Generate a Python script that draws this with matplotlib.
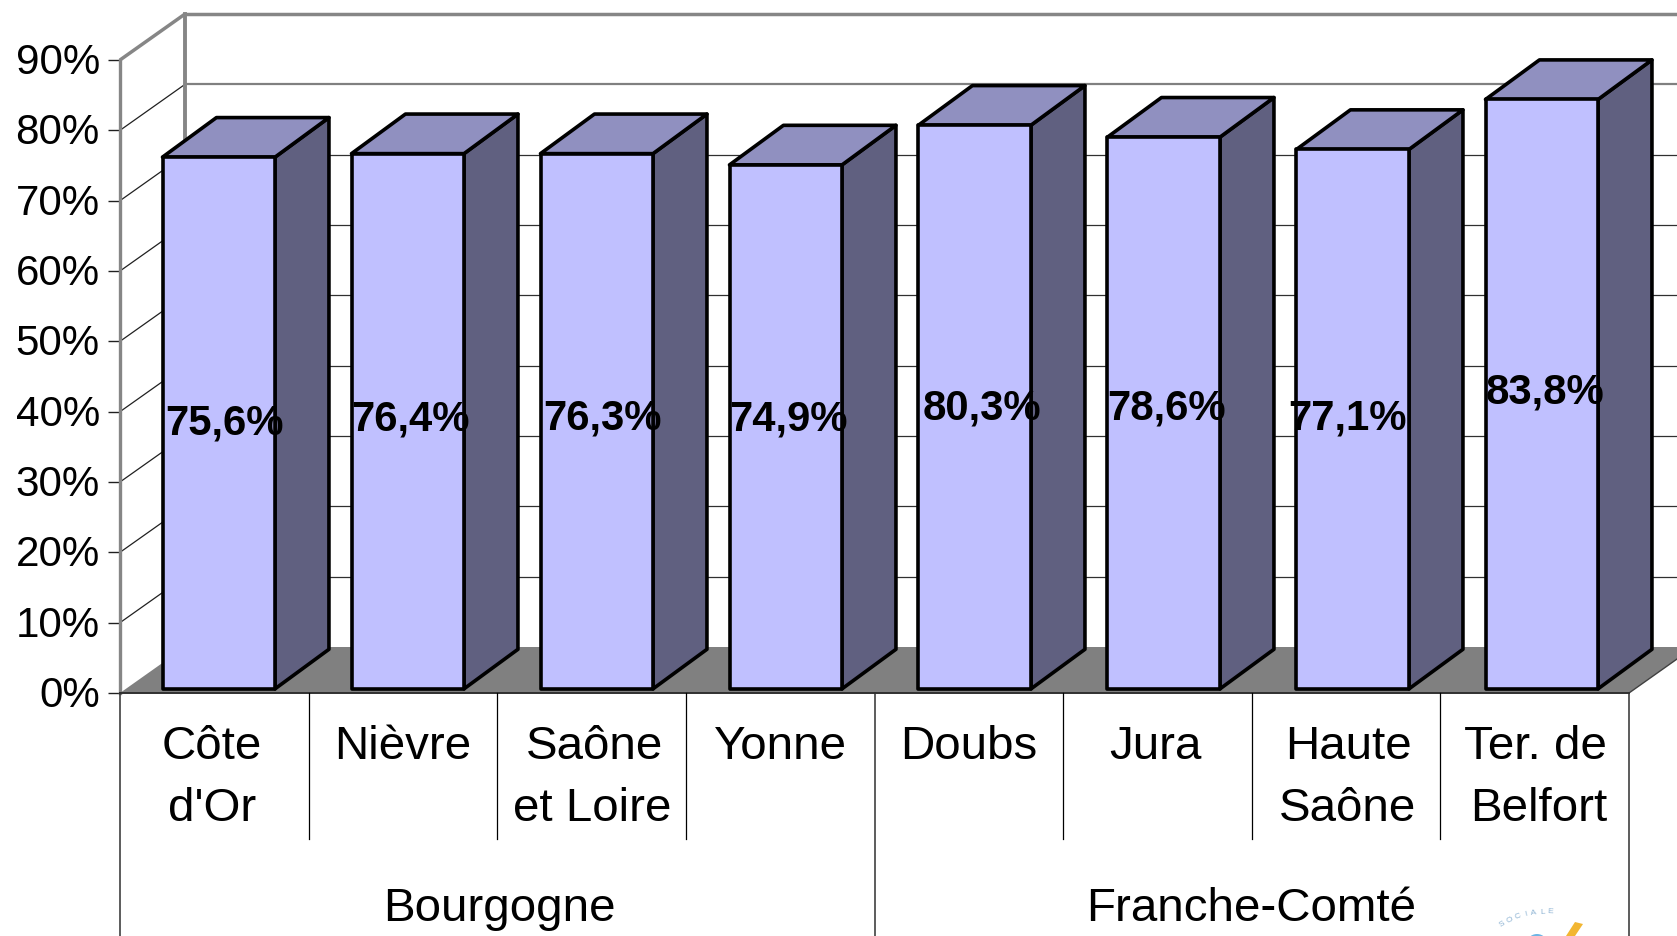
import numpy as np
import matplotlib
matplotlib.use("Agg")
import matplotlib.pyplot as plt
from matplotlib.patches import Polygon, Circle
from matplotlib.transforms import ScaledTranslation

plt.rcParams['font.family'] = ['Liberation Sans', 'DejaVu Sans']

# ---- data ----
departments = ["Côte\nd'Or", "Nièvre", "Saône\net Loire", "Yonne", "Doubs", "Jura", "Haute\nSaône", "Ter. de\nBelfort"]
regions = ["Bourgogne", "Franche-Comté"]
region_sizes = [4, 4]
# bar heights as drawn in the picture, and the values printed on the bars
bar_heights = [75.6, 76.1, 76.1, 74.5, 80.15, 78.45, 76.7, 83.8]
rate_labels = ["75,6%", "76,4%", "76,3%", "74,9%", "80,3%", "78,6%", "77,1%", "83,8%"]
y_ticks = [0, 10, 20, 30, 40, 50, 60, 70, 80, 90]
y_tick_labels = [f"{v}%" for v in y_ticks]

# ---- layout ----
W, H = 1677, 937
X0, X1, Y0, Y90 = 120, 1629, 694, 61      # front plane, px
PX_CAT = (X1 - X0) / 8
PX_PCT = (Y0 - Y90) / 90
DEPTH_X, DEPTH_Y = 65 / PX_CAT, 46 / PX_PCT   # wall depth, data units
BAR_L, BAR_W, BAR_STEP = 42.5 / PX_CAT, 112.5 / PX_CAT, 189.0 / PX_CAT
GAP_Y = 0.09
BAR_DX, BAR_DY = 0.83, 0.86
label_dx = [6, 3, 6, 3, 7, 3, -5, 3]
label_dy = [5, 7, 8, 13, 4, 10, 6, 7]
dept_dx = [(-3, -2), (0,), (3, 1), (0,), (0,), (-2,), (2, 1), (1, 4)]
region_dx = [2, -1]

FRONT, TOP, SIDE, FLOOR, WALL = "#C0C0FF", "#9090C0", "#606080", "#808080", "#868686"

fig = plt.figure(figsize=(W / 100, H / 100), dpi=100)
ax = fig.add_axes([X0 / W, 1 - Y0 / H, (X1 - X0) / W, (Y0 - Y90) / H])
ax.set_xlim(0, 8)
ax.set_ylim(0, 90)
ax.patch.set_visible(False)
for s in ax.spines.values():
    s.set_visible(False)

# y axis
ax.set_yticks(y_ticks, y_tick_labels)
ax.tick_params(axis='y', length=9, width=1, color='#202020', labelsize=30.3, pad=5.5)
ax.set_xticks([])
shift = ScaledTranslation(0, 2.5 / 100, fig.dpi_scale_trans)
for lab in ax.get_yticklabels():
    lab.set_transform(lab.get_transform() + shift)

# floor
ax.add_patch(Polygon([(0, 0), (8, 0), (8 + DEPTH_X, DEPTH_Y), (DEPTH_X, DEPTH_Y)],
                     fc=FLOOR, ec='none', clip_on=False, zorder=1))
# gridlines on both walls
for v in y_ticks[1:]:
    if v == 90:
        lw, col = 2.5, WALL
    elif v == 80:
        lw, col = 1.6, '#808080'
    else:
        lw, col = 0.9, '#303030'
    ax.plot([0, DEPTH_X], [v, v + DEPTH_Y], color=col if v == 90 else '#202020',
            lw=lw if v == 90 else 0.9, clip_on=False, zorder=1.5, solid_capstyle='butt')
    ax.plot([DEPTH_X, 8 + DEPTH_X], [v + DEPTH_Y, v + DEPTH_Y], color=col, lw=lw,
            clip_on=False, zorder=1.5, solid_capstyle='butt')
ax.plot([8, 8 + DEPTH_X], [0, DEPTH_Y], color='#404040', lw=1, clip_on=False, zorder=1.5)
# wall edges
ax.plot([0, 0], [0, 90], color=WALL, lw=2.4, clip_on=False, zorder=2)
ax.plot([DEPTH_X, DEPTH_X], [DEPTH_Y, 90 + DEPTH_Y], color=WALL, lw=2.8, clip_on=False, zorder=2)
ax.plot([0, 8], [0, 0], color='#303030', lw=1.4, clip_on=False, zorder=2)

# bars
for i, v in enumerate(bar_heights):
    l = i * BAR_STEP + BAR_L
    r = l + BAR_W
    dx, dy = DEPTH_X * BAR_DX, DEPTH_Y * BAR_DY
    b = DEPTH_Y * GAP_Y
    t = v + b
    kw = dict(ec='black', lw=2.6, joinstyle='round', clip_on=False, zorder=3)
    ax.add_patch(Polygon([(r, b), (r + dx, b + dy), (r + dx, t + dy), (r, t)], fc=SIDE, **kw))
    ax.add_patch(Polygon([(l, t), (r, t), (r + dx, t + dy), (l + dx, t + dy)], fc=TOP, **kw))
    ax.add_patch(Polygon([(l, b), (r, b), (r, t), (l, t)], fc=FRONT, **kw))
    ax.annotate(rate_labels[i], xy=(l + BAR_W / 2, v / 2), xytext=(label_dx[i], label_dy[i]),
                textcoords='offset pixels', ha='center', va='center',
                fontsize=30.2, fontweight='bold', color='black', zorder=4, annotation_clip=False)

# multi-level category axis
trans = ax.get_xaxis_transform()
def depth(px):
    return -(px - Y0) / (Y0 - Y90)

for i in range(1, 8):
    if i != 4:
        ax.plot([i, i], [0, depth(840)], transform=trans, color='black', lw=0.9, clip_on=False)
edge = 0
edges = [0]
for n in region_sizes:
    edge += n
    edges.append(edge)
for e in edges:
    ax.plot([e, e], [0, depth(H + 5)], transform=trans, color='#303030', lw=1.1, clip_on=False)

for i, name in enumerate(departments):
    for j, line in enumerate(name.split("\n")):
        ax.text(i + 0.5 + dept_dx[i][j] / PX_CAT, depth(747.5 + 62 * j), line, transform=trans,
                ha='center', va='center', fontsize=34.2, color='black', clip_on=False)
for k, name in enumerate(regions):
    ax.text((edges[k] + edges[k + 1]) / 2 + region_dx[k] / PX_CAT, depth(909.5), name, transform=trans,
            ha='center', va='center', fontsize=34.2, color='black', clip_on=False)

# faint logo cut off by the lower edge of the picture
def fx(px):
    return px / W
def fy(py):
    return 1 - py / H
fig.add_artist(Circle((1537, H - 946), 11, fc='#4aa3df', ec='none', alpha=0.8,
                      transform=None))
fig.add_artist(Polygon([(fx(1566), fy(937)), (fx(1575), fy(923)), (fx(1583), fy(925)), (fx(1575), fy(937))],
                       fc='#f2b632', ec='none', transform=fig.transFigure))
logo_text = "SOCIALE"
for n, ch in enumerate(logo_text):
    ang = np.deg2rad(-32 + n * 6)
    fig.text(fx(1545 + 80 * np.sin(ang)), fy(992 - 80 * np.cos(ang)), ch, rotation=-np.rad2deg(ang),
             ha='center', va='center', fontsize=6, color='#6f9fc8', alpha=0.8)

fig.savefig("out.png", dpi=100)
